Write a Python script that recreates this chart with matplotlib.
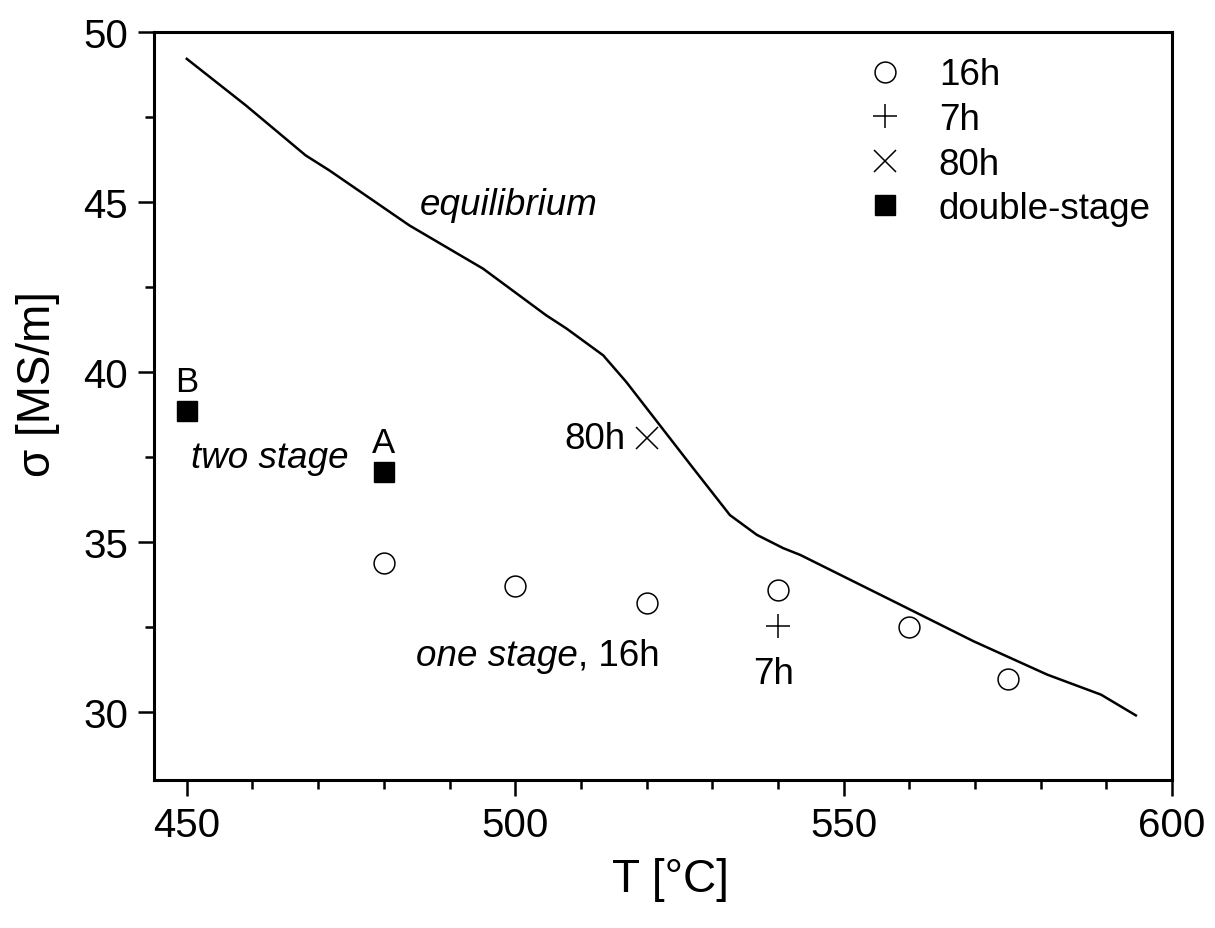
import matplotlib
matplotlib.use("Agg")
import matplotlib.pyplot as plt
from matplotlib.ticker import MultipleLocator

plt.rcParams['font.family'] = ['Liberation Sans', 'DejaVu Sans']

# Equilibrium conductivity curve
eq_T = [450.0, 459.0, 468.1, 471.7, 483.9, 495.1, 504.7, 507.8, 513.4, 516.9,
        522.0, 527.1, 532.7, 536.8, 540.8, 543.4, 558.7, 569.8, 581.0, 589.2, 594.5]
eq_sigma = [49.21, 47.84, 46.37, 45.93, 44.31, 43.04, 41.67, 41.28, 40.49, 39.71,
            38.44, 37.17, 35.79, 35.21, 34.82, 34.62, 33.15, 32.08, 31.10, 30.51, 29.90]

# Single-stage ageing, 16 h
t16_T = [480, 500, 520, 540, 560, 575]
t16_sigma = [34.38, 33.72, 33.2, 33.6, 32.49, 30.98]

# Single-stage ageing, 7 h
t7_T = [540]
t7_sigma = [32.53]

# Single-stage ageing, 80 h
t80_T = [520]
t80_sigma = [38.07]

# Double-stage ageing (B, A)
ds_T = [450, 480]
ds_sigma = [38.85, 37.05]
ds_labels = ['B', 'A']

fig = plt.figure(figsize=(12.15, 9.29), dpi=100)
ax = fig.add_axes([0.1267, 0.1593, 0.8379, 0.8052])

ax.plot(eq_T, eq_sigma, color='black', lw=1.8)
ax.plot(t16_T, t16_sigma, ls='none', marker='o', ms=15, mfc='white', mec='black',
        mew=1.1, label='16h')
ax.plot(t7_T, t7_sigma, ls='none', marker='+', ms=17, mec='black', mew=1.1, label='7h')
ax.plot(t80_T, t80_sigma, ls='none', marker='x', ms=16.5, mec='black', mew=1.1, label='80h')
ax.plot(ds_T, ds_sigma, ls='none', marker='s', ms=13.7, mfc='black', mec='black',
        label='double-stage')

for T, s, lab in zip(ds_T, ds_sigma, ds_labels):
    ax.text(T, s + 0.6, lab, ha='center', va='baseline', fontsize=25)

ax.text(485.4, 44.65, 'equilibrium', style='italic', fontsize=26.5, ha='left', va='baseline')
ax.text(516.8, 37.75, '80h', fontsize=26.5, ha='right', va='baseline')
ax.text(450.6, 37.2, 'two stage', style='italic', fontsize=26.5, ha='left', va='baseline')
one = ax.text(484.9, 31.39, 'one stage', style='italic', fontsize=26.5,
              ha='left', va='baseline')
ax.annotate(', 16h', xy=(1, 0), xycoords=one, fontsize=26.5, ha='left', va='bottom')
ax.text(539.3, 30.85, '7h', fontsize=26.5, ha='center', va='baseline')

ax.set_xlim(445, 600)
ax.set_ylim(28, 50)
ax.xaxis.set_major_locator(MultipleLocator(50))
ax.xaxis.set_minor_locator(MultipleLocator(10))
ax.yaxis.set_major_locator(MultipleLocator(5))
ax.yaxis.set_minor_locator(MultipleLocator(2.5))

for side in ax.spines.values():
    side.set_linewidth(2.2)
ax.tick_params(which='major', direction='out', length=11.5, width=1.8, labelsize=29, pad=7)
ax.tick_params(which='minor', direction='out', length=6.5, width=1.8)

ax.set_xlabel('T [°C]', fontsize=33, va='center')
ax.set_ylabel('σ [MS/m]', fontsize=33, va='center')
ax.xaxis.set_label_coords(0.507, -0.1324)
ax.yaxis.set_label_coords(-0.114, 0.531)

ax.legend(loc='upper left', bbox_to_anchor=(0.7004, 0.966), frameon=False, fontsize=26.5,
          handletextpad=0.95, handlelength=1.0, labelspacing=0.26, borderpad=0,
          borderaxespad=0)

fig.savefig('out.png', dpi=100)
